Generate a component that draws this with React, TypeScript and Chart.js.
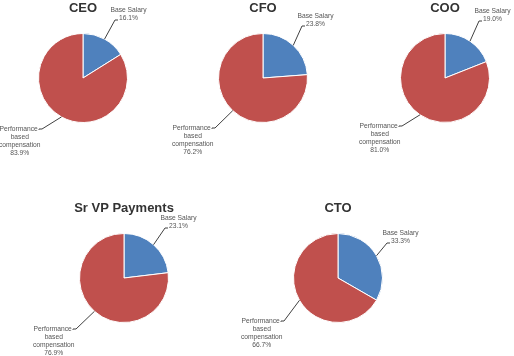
import React, { useEffect, useRef } from "react";
import { Chart, registerables } from "chart.js";

Chart.register(...registerables);

// ---- data ----
const titles = ["CEO", "CFO", "COO", "Sr VP Payments", "CTO"];
const categories = ["Base Salary", "Performance-based compensation"];
const categoryLines = [["Base Salary"], ["Performance-", "based", "compensation"]];
const baseSalary = [16.1, 23.8, 19.0, 23.1, 33.3];
const performanceBased = [83.9, 76.2, 81.0, 76.9, 66.7];

// ---- layout (not data) ----
const W = 514;
const H = 356;
const centers: [number, number][] = [
  [83, 78],
  [263, 78],
  [445, 78],
  [124, 278],
  [338, 278],
];
const PIE = 90;
// elbow of each leader line, relative to the pie centre: [base, performance]
const elbows: [number, number][][] = [
  [[32, -58], [-41, 51]],
  [[39, -52], [-48, 50]],
  [[34, -57], [-43, 48]],
  [[41, -50], [-48, 51]],
  [[49, -35], [-54, 43]],
];
const COLORS = ["#4F81BD", "#C0504D"];
const FONT = "'Liberation Sans', Arial, Helvetica, sans-serif";

function PieChart({ idx }: { idx: number }) {
  const ref = useRef<HTMLCanvasElement | null>(null);
  useEffect(() => {
    if (!ref.current) return;
    const [cx, cy] = centers[idx];
    const half = PIE / 2;
    const labelPlugin = {
      id: "pieLabels" + idx,
      afterDraw(chart: any) {
        const ctx = chart.ctx as CanvasRenderingContext2D;
        const meta = chart.getDatasetMeta(0);
        const data = chart.data.datasets[0].data as number[];
        const total = data.reduce((a, b) => a + b, 0);
        ctx.save();
        // title
        ctx.fillStyle = "#333333";
        ctx.font = `bold 13px ${FONT}`;
        ctx.textAlign = "center";
        ctx.textBaseline = "middle";
        ctx.fillText(titles[idx], cx, cy - 69.8);
        // labels
        ctx.font = `6.7px ${FONT}`;
        meta.data.forEach((arc: any, i: number) => {
          const p = arc.getProps(["x", "y", "startAngle", "endAngle", "outerRadius"], true);
          const mid = (p.startAngle + p.endAngle) / 2;
          const ex = p.x + Math.cos(mid) * p.outerRadius;
          const ey = p.y + Math.sin(mid) * p.outerRadius;
          const [dx, dy] = elbows[idx][i];
          const bx = p.x + dx;
          const by = p.y + dy;
          const side = dx >= 0 ? 1 : -1;
          ctx.strokeStyle = "#404040";
          ctx.lineWidth = 1;
          ctx.beginPath();
          ctx.moveTo(ex, ey);
          ctx.lineTo(bx, by);
          ctx.lineTo(bx + side * 3, by);
          ctx.stroke();
          const lines = [...categoryLines[i], ((data[i] / total) * 100).toFixed(1) + "%"];
          const lh = 8.2;
          ctx.fillStyle = "#555555";
          ctx.textAlign = "center";
          ctx.textBaseline = "middle";
          if (side > 0) {
            const lastW = ctx.measureText(lines[lines.length - 1]).width;
            const bcx = bx + 4 + lastW / 2;
            const lastY = by - 1.5;
            lines.forEach((t, k) => {
              ctx.fillText(t, bcx, lastY - (lines.length - 1 - k) * lh);
            });
          } else {
            const firstW = ctx.measureText(lines[0]).width;
            const bcx = bx - 2 - firstW / 2;
            lines.forEach((t, k) => {
              ctx.fillText(t, bcx, by + k * lh);
            });
          }
        });
        ctx.restore();
      },
    };
    const chart = new Chart(ref.current, {
      type: "pie",
      data: {
        labels: categories,
        datasets: [
          {
            data: [baseSalary[idx], performanceBased[idx]],
            backgroundColor: COLORS,
            borderColor: "#ffffff",
            borderWidth: 1,
          },
        ],
      },
      options: {
        responsive: false,
        animation: false,
        events: [],
        layout: {
          padding: {
            left: cx - half,
            right: W - cx - half,
            top: cy - half,
            bottom: H - cy - half,
          },
        },
        plugins: {
          legend: { display: false },
          tooltip: { enabled: false },
          title: { display: false },
        },
      },
      plugins: [labelPlugin],
    });
    return () => chart.destroy();
  }, [idx]);
  return (
    <canvas
      ref={ref}
      width={W}
      height={H}
      style={{ position: "absolute", left: 0, top: 0, width: W, height: H }}
    />
  );
}

export default function App() {
  return (
    <div
      style={{
        position: "fixed",
        left: 0,
        top: 0,
        width: W,
        height: H,
        background: "#ffffff",
      }}
    >
      {titles.map((_, i) => (
        <PieChart key={i} idx={i} />
      ))}
    </div>
  );
}
